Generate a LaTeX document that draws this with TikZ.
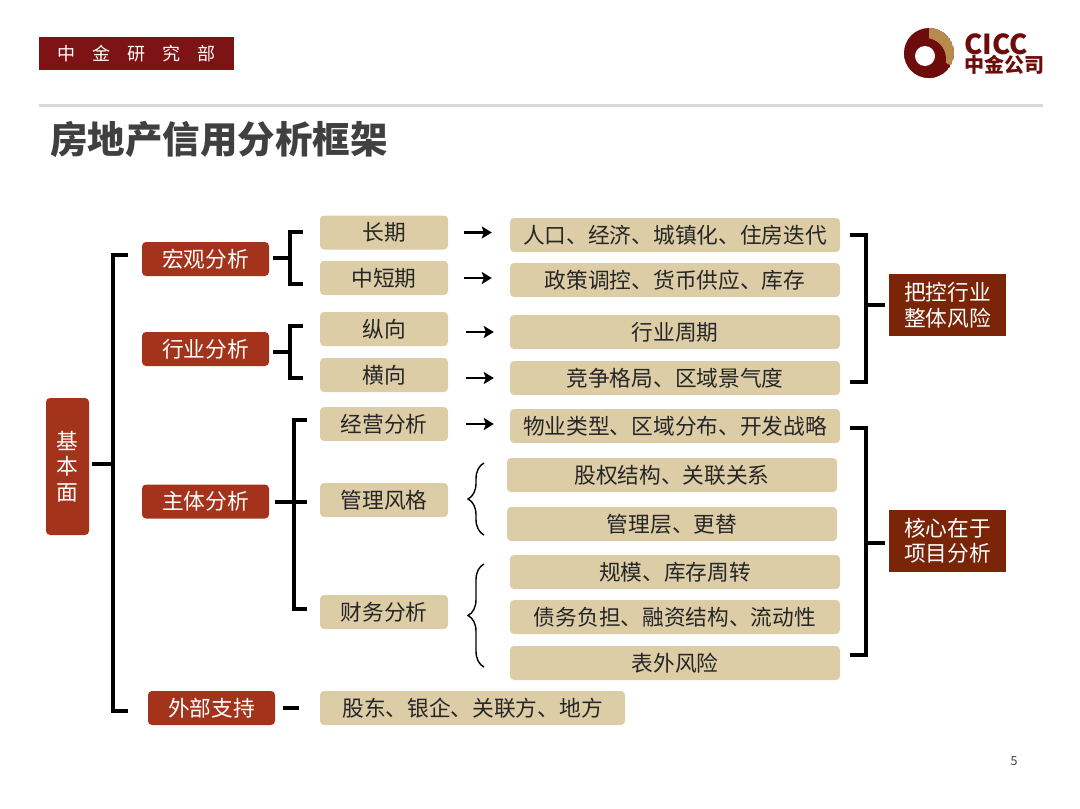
\documentclass[tikz,border=0pt]{standalone}
\usepackage{fontspec}
\setmainfont{Noto Sans CJK SC}
\usepackage{xcolor}
\usetikzlibrary{arrows.meta,decorations.pathreplacing}
\definecolor{cred}{HTML}{A3341B}
\definecolor{dred}{HTML}{7A2408}
\definecolor{hred}{HTML}{7D1315}
\definecolor{lred}{HTML}{6E0B0B}
\definecolor{ltan}{HTML}{DDCDA6}
\definecolor{lgold}{HTML}{B98A4E}
\tikzset{
	lbl/.style={font=\fontsize{21.7}{25.5}\selectfont,align=center,inner sep=0pt},
	redbox/.style={lbl,fill=cred,text=white,rounded corners=4pt,minimum width=127,minimum height=34},
	tanbox/.style={lbl,fill=ltan,text=black!85,rounded corners=4pt,minimum width=128,minimum height=34},
	longbox/.style={tanbox,minimum width=330},
	sidebox/.style={lbl,fill=dred,text=white,minimum width=117,minimum height=62},
	bracket/.style={line width=3.4pt,black,line join=miter},
	pointer/.style={line width=2.8pt,black,-{Stealth[length=10pt,width=12pt,inset=2pt]},shorten <=16pt,shorten >=18pt},
	curly/.style={line width=1.4pt,black,decorate,decoration={brace,amplitude=16pt}}
}
\begin{document}
\begin{tikzpicture}[x=1pt,y=-1pt]
	\useasboundingbox (0,0) rectangle (1080,809);
	\node[fill=hred,text=white,minimum width=195,minimum height=33,inner sep=0pt,font=\fontsize{18}{18}\selectfont] (header) at (136.5,53.5) {中\hspace{0.95em}金\hspace{0.95em}研\hspace{0.95em}究\hspace{0.95em}部};
	\begin{scope}
		\clip (929,53) circle (25);
		\fill[lred] (929,53) circle (25);
		\fill[lgold] (929,53) -- (929,28) arc (-90:30:25) -- cycle;
		\fill[lred] (925,59) circle (21);
		\fill[white] (925,56) circle (10);
	\end{scope}
	\node[anchor=west,inner sep=0pt,text=lred,font=\fontsize{27.5}{28}\selectfont\bfseries] (cicc) at (964,44) {CICC};
	\node[anchor=west,inner sep=0pt,text=lred,font=\fontsize{20}{20}\selectfont\bfseries] (ciccname) at (964,65) {中金公司};
	\draw[line width=3pt,black!15] (39,105) -- (1043,105);
	\node[anchor=west,inner sep=0pt,text=black!75,font=\fontsize{37.5}{38}\selectfont\bfseries] (title) at (50,139) {房地产信用分析框架};

	\node[redbox,minimum width=43,minimum height=137] (jiben) at (67.5,466.5) {基\\本\\面};
	\node[redbox] (hongguan) at (205.5,259) {宏观分析};
	\node[redbox] (hangye) at (205.5,349) {行业分析};
	\node[redbox] (zhuti) at (205.5,501.5) {主体分析};
	\node[redbox] (waibu) at (211.5,708) {外部支持};

	\node[tanbox] (changqi) at (384,232.5) {长期};
	\node[tanbox] (zhongduan) at (384,278) {中短期};
	\node[tanbox] (zongxiang) at (384,329) {纵向};
	\node[tanbox] (hengxiang) at (384,375) {横向};
	\node[tanbox] (jingying) at (384,424) {经营分析};
	\node[tanbox] (guanli) at (384,500) {管理风格};
	\node[tanbox] (caiwu) at (384,612) {财务分析};
	\node[tanbox,minimum width=305] (gudong) at (472.5,708) {股东、银企、关联方、地方};

	\node[longbox] (renkou) at (675,235) {人口、经济、城镇化、住房迭代};
	\node[longbox] (zhengce) at (675,280) {政策调控、货币供应、库存};
	\node[longbox] (zhouqi) at (675,332) {行业周期};
	\node[longbox] (jingzheng) at (675,378) {竞争格局、区域景气度};
	\node[longbox] (wuye) at (675,426) {物业类型、区域分布、开发战略};
	\node[longbox] (guquan) at (672,475) {股权结构、关联关系};
	\node[longbox] (guanlic) at (672,524) {管理层、更替};
	\node[longbox] (guimo) at (675,572) {规模、库存周转};
	\node[longbox] (zhaiwu) at (675,617) {债务负担、融资结构、流动性};
	\node[longbox] (biaowai) at (675,663) {表外风险};

	\node[sidebox] (bawo) at (947.5,305) {把控行业\\整体风险};
	\node[sidebox] (hexin) at (947.5,540.5) {核心在于\\项目分析};

	\coordinate (jb) at (113,464);
	\coordinate (jbt) at (128,255);
	\coordinate (jbb) at (128,711);
	\coordinate (hg) at (290,258);
	\coordinate (hgt) at (303,232);
	\coordinate (hgb) at (303,284);
	\coordinate (hy) at (290,352);
	\coordinate (hyt) at (303,326);
	\coordinate (hyb) at (303,378);
	\coordinate (zt) at (294,502);
	\coordinate (ztt) at (307,420);
	\coordinate (ztb) at (307,609);
	\coordinate (rt) at (866,305);
	\coordinate (rtt) at (850,235);
	\coordinate (rtb) at (850,382);
	\coordinate (rb) at (866,543);
	\coordinate (rbt) at (850,428);
	\coordinate (rbb) at (850,655);

	\draw[bracket,shorten <=3pt] (jb -| jiben.east) -- (jb);
	\draw[bracket] (jbt) -| (jb) |- (jbb);

	\draw[bracket,shorten <=4pt] (hg -| hongguan.east) -- (hg);
	\draw[bracket] (hgt) -| (hg) |- (hgb);
	\draw[bracket,shorten <=4pt] (hy -| hangye.east) -- (hy);
	\draw[bracket] (hyt) -| (hy) |- (hyb);
	\draw[bracket,shorten <=6pt,shorten >=13pt] (zt -| zhuti.east) -- (zt -| guanli.west);
	\draw[bracket] (ztt) -| (zt) |- (ztb);
	\draw[bracket,shorten <=8pt,shorten >=21pt] (waibu.east) -- (gudong.west);

	\draw[pointer] (changqi.east) -- (changqi.east -| renkou.west);
	\draw[pointer] (zhongduan.east) -- (zhongduan.east -| zhengce.west);
	\draw[pointer,shorten <=18pt,shorten >=16pt] (zhouqi.west -| zongxiang.east) -- (zhouqi.west);
	\draw[pointer,shorten <=18pt,shorten >=16pt] (jingzheng.west -| hengxiang.east) -- (jingzheng.west);
	\draw[pointer,shorten <=18pt,shorten >=16pt] (jingying.east) -- (jingying.east -| wuye.west);

	\draw[bracket] (rtt) -| (rt) |- (rtb);
	\draw[bracket,shorten >=4pt] (rt) -- (bawo.west);
	\draw[bracket] (rbt) -| (rb) |- (rbb);
	\draw[bracket,shorten >=4pt] (rb) -- (rb -| hexin.west);

	\draw[curly] (484,535) -- (484,463);
	\draw[curly] (484,667) -- (484,564);

	\node[inner sep=0pt,text=black!75,font=\fontsize{12.5}{13}\selectfont] (pagenum) at (1014,761) {5};
\end{tikzpicture}
\end{document}
